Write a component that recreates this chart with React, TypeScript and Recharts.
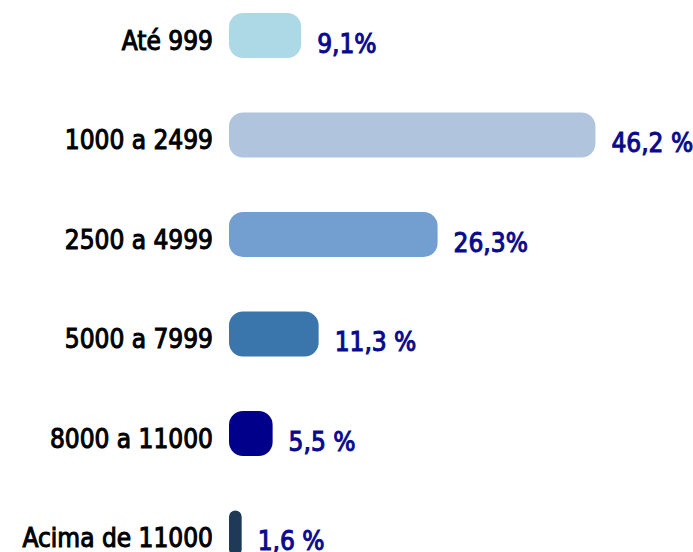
import { BarChart, Bar, XAxis, YAxis, Cell, LabelList } from 'recharts';

const faixas = ['Até 999', '1000 a 2499', '2500 a 4999', '5000 a 7999', '8000 a 11000', 'Acima de 11000'];
const percentuais = [9.1, 46.2, 26.3, 11.3, 5.5, 1.6];
const rotulos = ['9,1%', '46,2 %', '26,3%', '11,3 %', '5,5 %', '1,6 %'];
const cores = ['#add8e6', '#b0c4de', '#729fcf', '#3a75ab', '#00008b', '#1f3a57'];

const FONT = "'DejaVu Sans Condensed', 'DejaVu Sans', sans-serif";

const data = faixas.map((name, i) => ({ name, value: percentuais[i], label: rotulos[i] }));

// regular weight thickened a bit with a thin stroke, closer to the medium face in the reference
function CategoryTick({ x, y, payload }: any) {
  return (
    <text
      x={x}
      y={y}
      dy={5}
      textAnchor="end"
      dominantBaseline="central"
      fontFamily={FONT}
      fontSize={26}
      fill="#000"
      stroke="#000"
      strokeWidth={1}
    >
      {payload.value}
    </text>
  );
}

function ValueLabel({ x, y, width, height, index }: any) {
  return (
    <text
      x={Number(x) + Number(width) + 16}
      y={Number(y) + Number(height) / 2 + 8}
      dominantBaseline="central"
      fontFamily={FONT}
      fontSize={26}
      fill="#0a0a8e"
      stroke="#0a0a8e"
      strokeWidth={1}
    >
      {rotulos[index]}
    </text>
  );
}

export default function App() {
  return (
    <div style={{ position: 'absolute', left: 0, top: 0, width: 693, height: 552, overflow: 'hidden', background: '#fff' }}>
      <div style={{ position: 'absolute', left: 0, top: -14 }}>
        <BarChart
          width={693}
          height={597}
          data={data}
          layout="vertical"
          margin={{ top: 0, right: 0, bottom: 0, left: 0 }}
        >
          <XAxis type="number" hide domain={[0, 58.5]} />
          <YAxis
            type="category"
            dataKey="name"
            width={229}
            axisLine={false}
            tickLine={false}
            tickSize={0}
            tickMargin={16}
            interval={0}
            tick={<CategoryTick />}
          />
          <Bar dataKey="value" barSize={45} radius={14} isAnimationActive={false}>
            {data.map((d, i) => (
              <Cell key={`cell-${i}`} fill={cores[i]} />
            ))}
            <LabelList dataKey="label" content={<ValueLabel />} />
          </Bar>
        </BarChart>
      </div>
    </div>
  );
}
